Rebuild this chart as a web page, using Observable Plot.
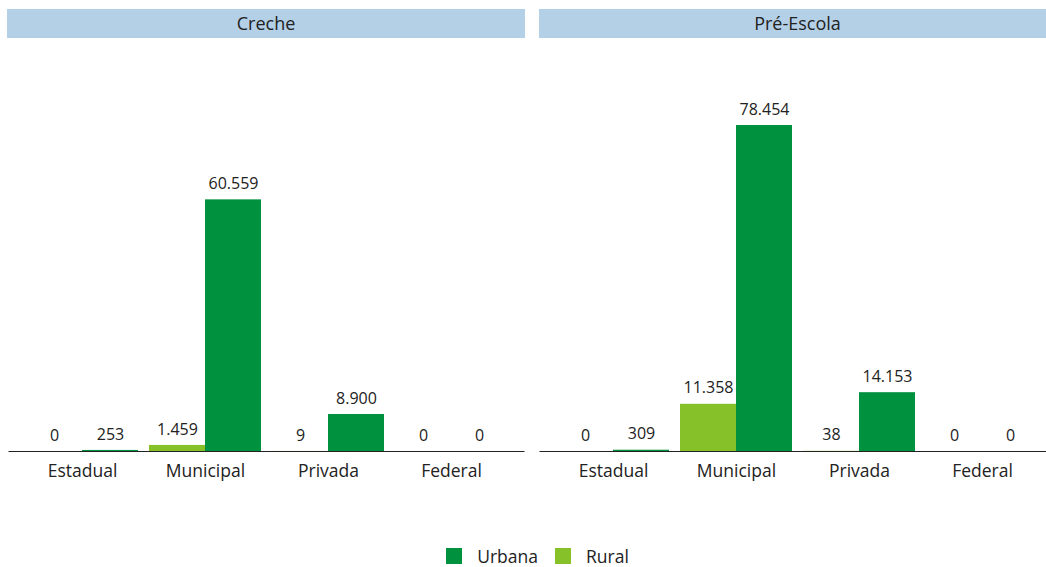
<!DOCTYPE html>
<html>
<head>
<meta charset="utf-8">
<script src="https://cdn.jsdelivr.net/npm/d3@7"></script>
<script src="https://cdn.jsdelivr.net/npm/@observablehq/plot@0.6"></script>
<style>
  html, body { margin: 0; padding: 0; background: #fff; overflow: hidden; width: 1046px; height: 567px; }
  #wrap { position: relative; width: 1046px; height: 567px; overflow: hidden; font-family: "Open Sans", sans-serif; }
  .panel { position: absolute; top: 0; width: 531px; height: 520px; }
  .strip { position: absolute; top: 9px; height: 29px; background: #b4d0e7; color: #222;
           font-size: 18px; line-height: 29px; text-align: center; font-weight: 400; }
  .panel svg { position: absolute; top: 40px; left: 0; }
  #legend { position: absolute; bottom: 2px; left: 36px; width: 1020px; display: flex; justify-content: center; }
  #legend > div { min-height: 0 !important; margin: 0 !important; line-height: 18px; }
  #legend span { line-height: 18px; }
  #legend svg { margin-right: 15px !important; }
  #legend span { margin-right: 17px !important; }
</style>
</head>
<body>
<div id="wrap"></div>
<script>
const panels = ["Creche", "Pré-Escola"];
const categories = ["Estadual", "Municipal", "Privada", "Federal"];
const series = ["Rural", "Urbana"];
const crecheRural = [0, 1459, 9, 0];
const crecheUrbana = [253, 60559, 8900, 0];
const preRural = [0, 11358, 38, 0];
const preUrbana = [309, 78454, 14153, 0];

const dark = "#00913f";
const light = "#86c12a";

const values = {
  "Creche": {Rural: crecheRural, Urbana: crecheUrbana},
  "Pré-Escola": {Rural: preRural, Urbana: preUrbana}
};

const ymax = d3.max([...crecheRural, ...crecheUrbana, ...preRural, ...preUrbana]);
const fmt = d3.formatLocale({decimal: ",", thousands: ".", grouping: [3], currency: ["R$", ""]}).format(",d");

const wrap = document.getElementById("wrap");

panels.forEach((p, i) => {
  const data = [];
  categories.forEach((c, j) => {
    series.forEach(s => data.push({cat: c, loc: s, value: values[p][s][j]}));
  });
  const panel = document.createElement("div");
  panel.className = "panel";
  panel.style.left = (i * 531) + "px";
  const strip = document.createElement("div");
  strip.className = "strip";
  strip.style.left = (i === 0 ? 7 : 8) + "px";
  strip.style.width = (i === 0 ? 518 : 517) + "px";
  strip.textContent = p;
  panel.appendChild(strip);

  const chart = Plot.plot({
    width: 531,
    height: 460,
    marginLeft: 8,
    marginRight: 6,
    marginTop: 85,
    marginBottom: 49,
    style: {fontFamily: "'Open Sans', sans-serif", fontSize: "17.5px", color: "#222", background: "transparent"},
    fx: {domain: categories, paddingInner: 0.09, paddingOuter: 0.14, label: null, axis: "bottom", tickSize: 0, tickPadding: 13},
    x: {domain: series, padding: 0, axis: null},
    y: {domain: [0, ymax], axis: null},
    color: {domain: ["Urbana", "Rural"], range: [dark, light]},
    marks: [
      Plot.barY(data, {fx: "cat", x: "loc", y: "value", fill: "loc"}),
      Plot.text(data, {fx: "cat", x: "loc", y: "value", text: d => fmt(d.value), dy: -16, fontSize: 16, fill: "#222"}),
      Plot.ruleY([0], {stroke: "#222", strokeWidth: 1, insetLeft: -17.5, insetRight: -17.5})
    ]
  });
  panel.appendChild(chart);
  wrap.appendChild(panel);
});

const legendDiv = document.createElement("div");
legendDiv.id = "legend";
const leg = Plot.legend({
  color: {domain: ["Urbana", "Rural"], range: [dark, light]},
  legend: "swatches",
  swatchSize: 16,
  style: {fontFamily: "'Open Sans', sans-serif", fontSize: "17.5px", color: "#222"}
});
legendDiv.appendChild(leg);
wrap.appendChild(legendDiv);
</script>
</body>
</html>
